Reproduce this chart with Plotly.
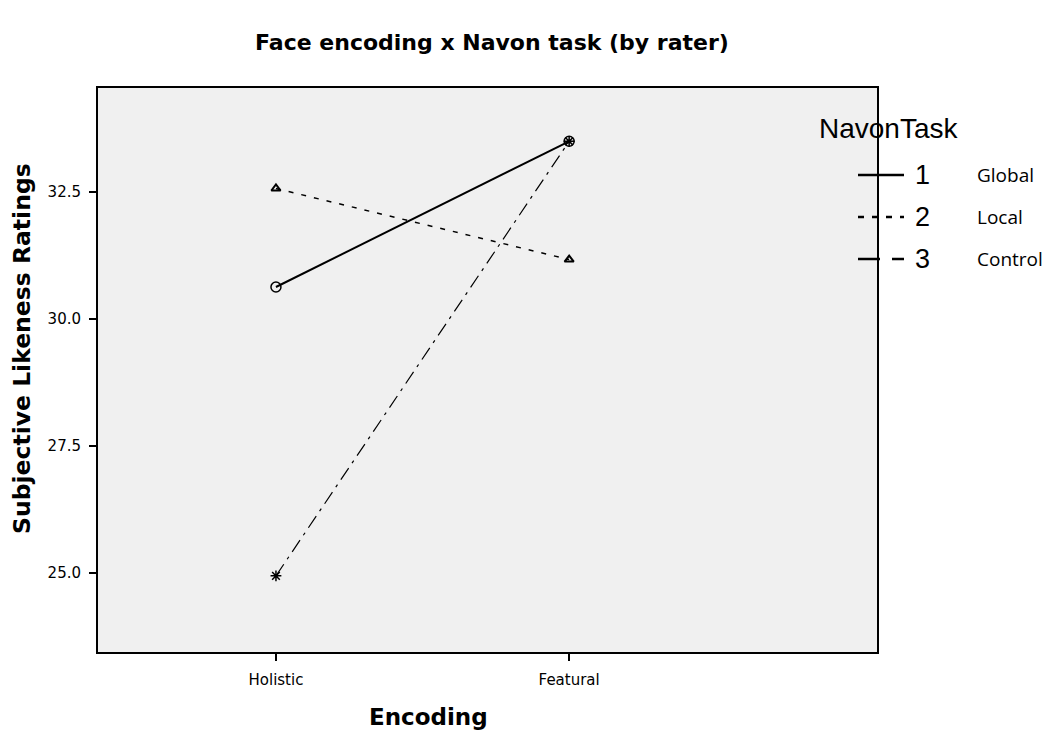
import plotly.graph_objects as go

# ---- data ----
encoding = ["Holistic", "Featural"]
global_vals = [30.63, 33.50]
local_vals = [32.57, 31.17]
control_vals = [24.94, 33.50]
y_ticks = [25.0, 27.5, 30.0, 32.5]
legend_codes = ["1", "2", "3"]
legend_names = ["Global", "Local", "Control"]

W, H = 1062, 731
OFF = 8  # page body margin
L, R, T, B = 98, 877, 88, 652   # target plot area in page pixels

def px(x):
    return (x - L) / (R - L)

def py(y):
    return (B - y) / (B - T)

FONT = "DejaVu Sans, Verdana"

fig = go.Figure()
fig.add_trace(go.Scatter(x=encoding, y=global_vals, mode="lines+markers",
                         line=dict(color="black", width=2, dash="solid"),
                         marker=dict(symbol="circle-open", size=10, color="black", line=dict(width=1.5)),
                         showlegend=False))
fig.add_trace(go.Scatter(x=encoding, y=local_vals, mode="lines+markers",
                         line=dict(color="black", width=1.5, dash="5px,8px"),
                         marker=dict(symbol="triangle-up-open", size=8, color="black", line=dict(width=2)),
                         showlegend=False))
fig.add_trace(go.Scatter(x=encoding, y=control_vals, mode="lines+markers",
                         line=dict(color="black", width=1.2, dash="14px,6px,3px,6px"),
                         marker=dict(symbol="asterisk-open", size=9, color="black", line=dict(width=1.5)),
                         showlegend=False))

# ---- axis titles (positioned like the original) ----
shapes = []
annotations = []
annotations.append(dict(text="<b>Encoding</b>", x=px(428), y=py(717), xref="paper", yref="paper",
                        xanchor="center", yanchor="middle", showarrow=False,
                        font=dict(size=23, family=FONT, color="black")))
annotations.append(dict(text="<b>Subjective Likeness Ratings</b>", x=px(22), y=py(349),
                        xref="paper", yref="paper", textangle=-90,
                        xanchor="center", yanchor="middle", showarrow=False,
                        font=dict(size=23.5, family=FONT, color="black")))

# ---- manual legend ----
annotations.append(dict(text="NavonTask", x=px(817), y=py(128), xref="paper", yref="paper",
                        xanchor="left", yanchor="middle", showarrow=False,
                        font=dict(size=28, family="Liberation Sans, Arial", color="black")))
rows_y = [175, 217, 259]
dashes = ["solid", "6px,8px", "22px,12px"]
for i in range(3):
    yy = py(rows_y[i])
    shapes.append(dict(type="line", xref="paper", yref="paper", x0=px(858), x1=px(904),
                       y0=yy, y1=yy, line=dict(color="black", width=2.5, dash=dashes[i])))
    annotations.append(dict(text=legend_codes[i], x=px(922), y=yy, xref="paper", yref="paper",
                            xanchor="center", yanchor="middle", showarrow=False,
                            font=dict(size=27, family="Liberation Sans, Arial", color="black")))
    annotations.append(dict(text=legend_names[i], x=px(975), y=yy, xref="paper", yref="paper",
                            xanchor="left", yanchor="middle", showarrow=False,
                            font=dict(size=19, family="Open Sans, Noto Sans", color="black")))

fig.update_layout(
    width=W, height=H,
    margin=dict(l=L - OFF, r=W - (R - OFF), t=T - OFF, b=H - (B - OFF)),
    paper_bgcolor="white",
    plot_bgcolor="#f0f0f0",
    title=dict(text="<b>Face encoding x Navon task (by rater)</b>", x=px(492), xref="paper",
               xanchor="center", y=1 - (42 - OFF) / H, yanchor="middle",
               font=dict(size=22, family=FONT, color="black")),
    xaxis=dict(type="category", range=[-0.607, 2.05], showgrid=False, zeroline=False,
               automargin=False,
               showline=True, linecolor="black", linewidth=2, mirror=True,
               ticks="outside", ticklen=7, tickwidth=2, tickcolor="black",
               ticklabelstandoff=6,
               tickfont=dict(size=15, family=FONT, color="black")),
    yaxis=dict(range=[23.44, 34.55], tickvals=y_ticks, tickformat=".1f", showgrid=False,
               automargin=False,
               zeroline=False, showline=True, linecolor="black", linewidth=2, mirror=True,
               ticks="outside", ticklen=7, tickwidth=2, tickcolor="black",
               ticklabelstandoff=5,
               tickfont=dict(size=15, family=FONT, color="black")),
    shapes=shapes,
    annotations=annotations,
)

fig.write_html("out.html")
